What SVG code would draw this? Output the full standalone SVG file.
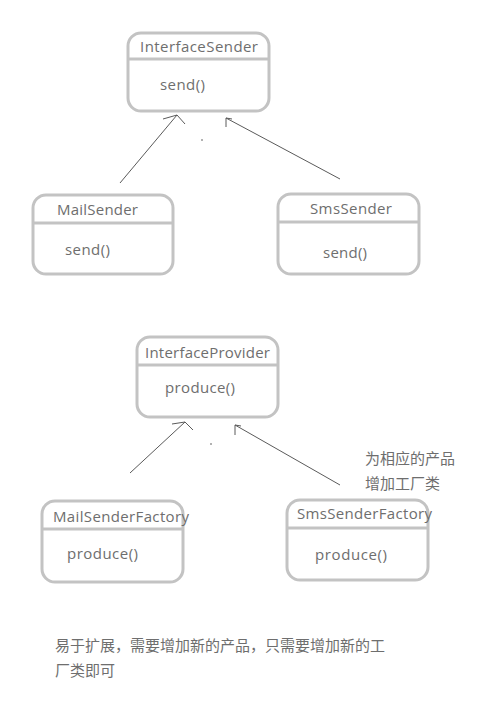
<svg xmlns="http://www.w3.org/2000/svg" width="489" height="711" viewBox="0 0 489 711">
<style>
.box{fill:none;stroke:#c3c3c3;stroke-width:3}
.t{font-family:"Open Sans","Liberation Sans",sans-serif;font-size:15px;fill:#6e6e6e}
.c{font-family:"Noto Sans CJK SC","Noto Sans",sans-serif;font-size:15px;fill:#6e6e6e}
.ln{fill:none;stroke:#5a5a5a;stroke-width:1}
</style>
<rect width="489" height="711" fill="#fff"/>
<g id="InterfaceSender">
<rect class="box" x="128" y="33" width="141" height="78" rx="13"/>
<line class="box" x1="128" y1="59" x2="270" y2="59"/>
<text class="t" x="140" y="52" textLength="118">InterfaceSender</text>
<text class="t" x="160" y="90" textLength="45">send()</text>
</g>
<g id="MailSender">
<rect class="box" x="33" y="195" width="140" height="79" rx="13"/>
<line class="box" x1="33" y1="223" x2="174" y2="223"/>
<text class="t" x="57" y="215" textLength="81">MailSender</text>
<text class="t" x="65" y="255" textLength="45">send()</text>
</g>
<g id="SmsSender">
<rect class="box" x="278" y="194" width="141" height="80" rx="13"/>
<line class="box" x1="278" y1="222" x2="420" y2="222"/>
<text class="t" x="310" y="214" textLength="82">SmsSender</text>
<text class="t" x="323" y="258" textLength="44">send()</text>
</g>
<g id="InterfaceProvider">
<rect class="box" x="137" y="337" width="141" height="80" rx="13"/>
<line class="box" x1="137" y1="365" x2="279" y2="365"/>
<text class="t" x="145" y="358" textLength="125">InterfaceProvider</text>
<text class="t" x="165" y="393" textLength="70">produce()</text>
</g>
<g id="MailSenderFactory">
<rect class="box" x="42" y="501" width="141" height="81" rx="13"/>
<line class="box" x1="42" y1="529" x2="184" y2="529"/>
<text class="t" x="53" y="522" textLength="136">MailSenderFactory</text>
<text class="t" x="67" y="559" textLength="71">produce()</text>
</g>
<g id="SmsSenderFactory">
<rect class="box" x="287" y="500" width="141" height="80" rx="13"/>
<line class="box" x1="287" y1="528" x2="429" y2="528"/>
<text class="t" x="297" y="519" textLength="135">SmsSenderFactory</text>
<text class="t" x="315" y="560" textLength="72">produce()</text>
</g>
<g id="connectors">
<path class="ln" d="M120,183 L177,115 M163,119 L177,115 L185,124"/>
<path class="ln" d="M340,179 L226,118 M226,127 L226,118 L232,119"/>
<path class="ln" d="M130,473 L185,422 M172,424 L185,422 L193,430"/>
<path class="ln" d="M340,485 L235,425 M235,435 L235,425 L241,426"/>
<rect x="201.5" y="139" width="1" height="2" fill="#666"/>
<rect x="210.5" y="443" width="1" height="2" fill="#666"/>
</g>
<g id="notes">
<text class="c" x="365" y="464">为相应的产品</text>
<text class="c" x="365" y="489">增加工厂类</text>
<text class="c" x="55" y="651">易于扩展，需要增加新的产品，只需要增加新的工</text>
<text class="c" x="55" y="676">厂类即可</text>
</g>
</svg>
